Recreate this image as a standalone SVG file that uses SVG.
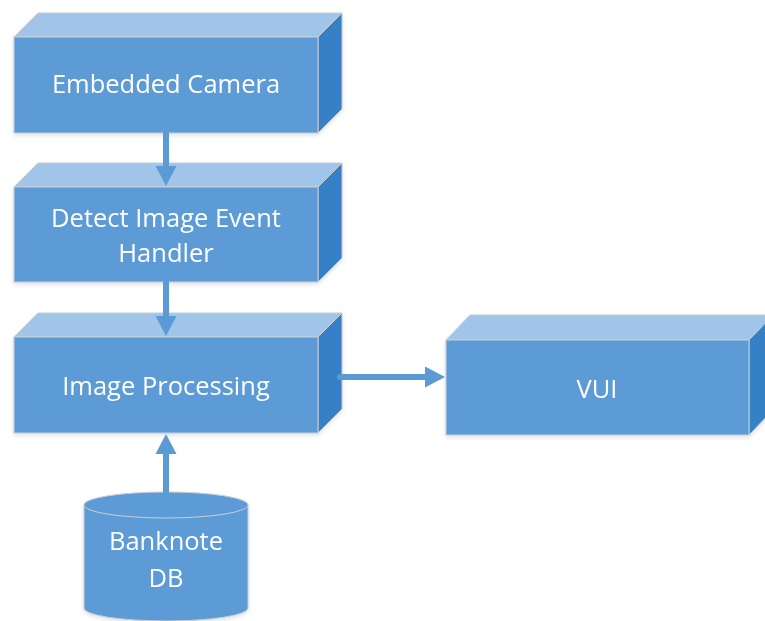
<svg xmlns="http://www.w3.org/2000/svg" width="765" height="621" viewBox="0 0 765 621">
  <style>
    .front { fill: #5B9BD5; stroke: #C9CED4; stroke-width: 1; }
    .top { fill: #A0C5E8; stroke: #C9CED4; stroke-width: 1; }
    .side { fill: #3480C6; stroke: #C9CED4; stroke-width: 1; }
    .label { fill: #FFFFFF; font-family: "Open Sans", "Noto Sans", sans-serif; font-size: 25.5px; text-anchor: middle; }
    .conn { stroke: #5B9BD5; stroke-width: 6; fill: none; stroke-linecap: round; }
    .head { fill: #5B9BD5; }
  </style>
  <defs>
    <filter id="soft" x="-5%" y="-5%" width="115%" height="120%">
      <feDropShadow dx="0" dy="2" stdDeviation="2" flood-color="#7A8A99" flood-opacity="0.25"/>
    </filter>
  </defs>
  <rect width="765" height="621" fill="#FFFFFF"/>

  <!-- Embedded Camera block -->
  <g id="camera" filter="url(#soft)">
    <path class="top" d="M14,37 L38,13 L342,13 L318,37 Z"/>
    <path class="side" d="M318,37 L342,13 L342,109 L318,133 Z"/>
    <rect class="front" x="14" y="37" width="304" height="96"/>
    <text class="label" x="166" y="93">Embedded Camera</text>
  </g>

  <!-- Detect Image Event Handler block -->
  <g id="handler" filter="url(#soft)">
    <path class="top" d="M14,187 L38,163 L342,163 L318,187 Z"/>
    <path class="side" d="M318,187 L342,163 L342,258 L318,282 Z"/>
    <rect class="front" x="14" y="187" width="304" height="95"/>
    <text class="label" x="166" y="227">Detect Image Event</text>
    <text class="label" x="166" y="262">Handler</text>
  </g>

  <!-- Image Processing block -->
  <g id="processing" filter="url(#soft)">
    <path class="top" d="M14,337 L38,313 L342,313 L318,337 Z"/>
    <path class="side" d="M318,337 L342,313 L342,409 L318,433 Z"/>
    <rect class="front" x="14" y="337" width="304" height="96"/>
    <text class="label" x="166" y="395">Image Processing</text>
  </g>

  <!-- VUI block -->
  <g id="vui" filter="url(#soft)">
    <path class="top" d="M446,340 L470,315 L773,315 L749,340 Z"/>
    <path class="side" d="M749,340 L773,315 L773,410 L749,435 Z"/>
    <rect class="front" x="446" y="340" width="303" height="95"/>
    <text class="label" x="597" y="398">VUI</text>
  </g>

  <!-- Banknote DB cylinder -->
  <g id="banknote-db" filter="url(#soft)">
    <path class="front" d="M84,505 L84,608 A82,13 0 0 0 248,608 L248,505"/>
    <ellipse class="front" cx="166" cy="505" rx="82" ry="13"/>
    <text class="label" x="166" y="550">Banknote</text>
    <text class="label" x="166" y="587">DB</text>
  </g>

  <!-- Connectors -->
  <g id="connectors">
    <line class="conn" x1="166" y1="134" x2="166" y2="168"/>
    <polygon class="head" points="155.5,166 176.5,166 166,186"/>

    <line class="conn" x1="166" y1="283" x2="166" y2="318"/>
    <polygon class="head" points="155.5,316 176.5,316 166,336"/>

    <line class="conn" x1="340" y1="377" x2="427" y2="377"/>
    <polygon class="head" points="425,366.5 425,387.5 445,377"/>

    <line class="conn" x1="166" y1="492" x2="166" y2="452"/>
    <polygon class="head" points="155.5,454 176.5,454 166,434"/>
  </g>
</svg>
